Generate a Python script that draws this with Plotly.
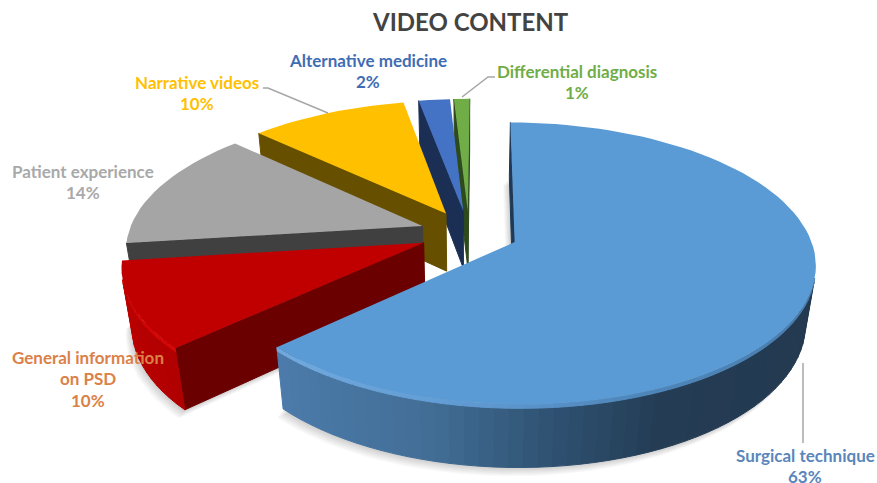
# -----------------------------------------------------
# Video content: exploded 3D pie
# Plotly has no 3D pie, so wedges are projected from the values
# -----------------------------------------------------

import numpy as np
import plotly.graph_objects as go

# =====================================================
# Data
# =====================================================

categories = [
    "Surgical technique",
    "General information<br>on PSD",
    "Patient experience",
    "Narrative videos",
    "Alternative medicine",
    "Differential diagnosis",
]
percent = [63, 10, 14, 10, 2, 1]

top_colors = ["#5B9BD5", "#C00000", "#A5A5A5", "#FFC000", "#4472C4", "#70AD47"]
wall_colors = ["#1F3A56", "#6B0000", "#404040", "#665000", "#1B2F55", "#2D4A1C"]
text_colors = ["#5A86BC", "#DB8147", "#A9A9A9", "#FFC000", "#3F6DB3", "#70AD47"]

# line centre of the first label line, in pixels
label_x = [805, 88, 83, 197, 368, 577]
label_y = [455, 357, 171, 82, 60, 71]

# =====================================================
# Projection (plate radius = 1)
# =====================================================

CX, CY = 469, 233
A, B = 294, 135
SHEAR = 2
PERSP = 0.15
DEPTH = 60
DEPTH_PERSP = 0.03
EXPLODE = 0.168


def project(x, y, z=0.0):
    w = 1 + PERSP * y + DEPTH_PERSP * z
    return CX + (A * x + SHEAR * y) / w, CY + (-B * y + DEPTH * z) / w


def wedge_plate(start, end):
    mid = np.radians((start + end) / 2)
    ox, oy = EXPLODE * np.sin(mid), EXPLODE * np.cos(mid)
    steps = max(2, int(round((end - start) / 2.5)) + 1)
    angles = np.linspace(start, end, steps)
    xs = ox + np.sin(np.radians(angles))
    ys = oy + np.cos(np.radians(angles))
    return [(ox, oy)] + list(zip(xs, ys)), angles


def polygon(fig, xs, ys, color, width=1.0):
    fig.add_trace(
        go.Scatter(
            x=list(xs) + [xs[0]],
            y=list(ys) + [ys[0]],
            mode="lines",
            fill="toself",
            fillcolor=color,
            line=dict(color=color, width=width),
            hoverinfo="skip",
            showlegend=False,
        )
    )


def quad(fig, p, q, z0, z1, color):
    a = project(p[0], p[1], z0)
    b = project(q[0], q[1], z0)
    c = project(q[0], q[1], z1)
    d = project(p[0], p[1], z1)
    polygon(fig, [a[0], b[0], c[0], d[0]], [a[1], b[1], c[1], d[1]], color)


def facing(p, q):
    pts = [project(*p), project(*q), project(q[0], q[1], 1), project(p[0], p[1], 1)]
    area = 0
    for i in range(4):
        x0, y0 = pts[i]
        x1, y1 = pts[(i + 1) % 4]
        area += x0 * y1 - x1 * y0
    return area < 0


def rgb(stops, angle):
    a = [s[0] for s in stops]
    return "rgb({:.0f},{:.0f},{:.0f})".format(
        *[np.interp(angle, a, [s[1][i] for s in stops]) for i in range(3)]
    )


BLUE_RIM = [
    (90, (34, 56, 78)),
    (155, (36, 60, 84)),
    (174, (46, 80, 112)),
    (195, (66, 110, 150)),
    (227, (76, 124, 172)),
]
BLUE_EDGE = [
    (90, (70, 118, 165)),
    (160, (78, 134, 186)),
    (195, (100, 158, 214)),
    (227, (112, 170, 222)),
]
RED_RIM = [(226, (176, 0, 0)), (263, (190, 0, 0))]
RED_EDGE = [(226, (214, 6, 6)), (263, (200, 0, 0))]

fig = go.Figure()

# =====================================================
# Wedges, back to front
# =====================================================

bounds = np.cumsum([0] + percent) * 3.6
wedges = [(i, bounds[i], bounds[i + 1]) for i in range(len(percent))]
order = [5, 4, 3, 2, 1, 0]

# soft shadow under the two front wedges
for i in [1, 0]:
    plate, _ = wedge_plate(wedges[i][1], wedges[i][2])
    for step in range(1, 9):
        pts = [project(p[0], p[1], 1) for p in plate]
        polygon(
            fig,
            [p[0] - step * 0.8 for p in pts],
            [p[1] + step * 1.1 for p in pts],
            "rgba(0,0,0,0.022)",
            width=0,
        )

for i in order:
    _, start, end = wedges[i]
    plate, angles = wedge_plate(start, end)
    loop = plate + [plate[0]]

    for k in range(len(loop) - 1):
        p, q = loop[k], loop[k + 1]
        if not facing(p, q):
            continue
        on_rim = 0 < k < len(plate) - 1
        if not on_rim:
            quad(fig, p, q, 0, 1, wall_colors[i])
            continue
        angle = (angles[k - 1] + angles[k]) / 2
        if i == 0:
            quad(fig, p, q, 0.06, 1, rgb(BLUE_RIM, angle))
            quad(fig, p, q, 0, 0.06, rgb(BLUE_EDGE, angle))
        elif i == 1:
            quad(fig, p, q, 0.06, 1, rgb(RED_RIM, angle))
            quad(fig, p, q, 0, 0.06, rgb(RED_EDGE, angle))
        else:
            quad(fig, p, q, 0, 1, wall_colors[i])

    pts = [project(*p) for p in plate]
    polygon(fig, [p[0] for p in pts], [p[1] for p in pts], top_colors[i], width=0)

# =====================================================
# Leader lines
# =====================================================

leaders = [
    ([263, 268, 328], [88, 88, 113]),
    ([495, 488, 462], [77, 77, 97]),
    ([803, 803], [363, 443]),
]
for lx, ly in leaders:
    fig.add_trace(
        go.Scatter(
            x=lx,
            y=ly,
            mode="lines",
            line=dict(color="#A6A6A6", width=1.5),
            hoverinfo="skip",
            showlegend=False,
        )
    )

# =====================================================
# Labels
# =====================================================

LINE_STEP = 21.5

for name, pct, x, y, color in zip(categories, percent, label_x, label_y, text_colors):
    for n, line in enumerate(name.split("<br>") + [f"{pct}%"]):
        fig.add_annotation(
            x=x,
            y=y + n * LINE_STEP,
            text=f"<b>{line}</b>",
            showarrow=False,
            xanchor="center",
            yanchor="middle",
            font=dict(family="Lato", size=17, color=color),
        )

fig.add_annotation(
    x=470,
    y=21,
    text="<b>VIDEO CONTENT</b>",
    showarrow=False,
    xanchor="center",
    yanchor="middle",
    font=dict(family="Lato", size=24, color="#434343"),
)

# =====================================================
# Layout
# =====================================================

fig.update_layout(
    width=877,
    height=483,
    margin=dict(l=0, r=0, t=0, b=0),
    paper_bgcolor="white",
    plot_bgcolor="white",
    showlegend=False,
)
fig.update_xaxes(range=[0, 877], visible=False)
fig.update_yaxes(range=[483, 0], visible=False)

fig.write_html(
    "out.html",
    config={"displayModeBar": False},
    post_script="document.body.style.margin='0';document.body.style.overflow='hidden';",
)
